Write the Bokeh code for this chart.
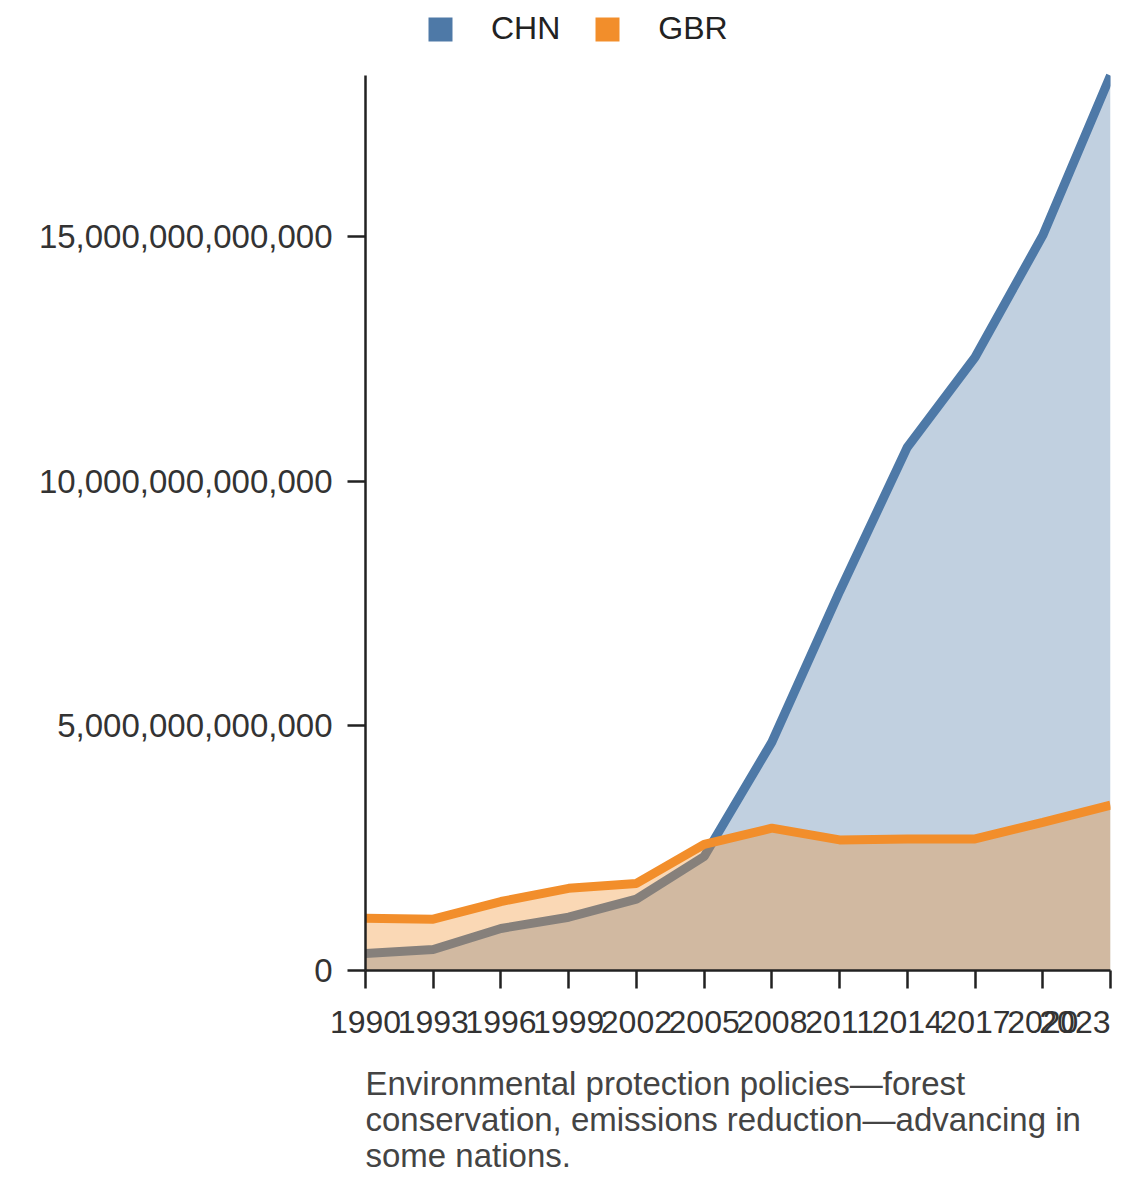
from bokeh.plotting import figure
from bokeh.models import (Range1d, FixedTicker, NumeralTickFormatter, Legend,
                          LegendItem, Label)
from bokeh.embed import file_html
from bokeh.resources import INLINE

# ---------------- data ----------------
years = [1990, 1993, 1996, 1999, 2002, 2005, 2008, 2011, 2014, 2017, 2020, 2023]
chn = [0.35e12, 0.43e12, 0.86e12, 1.09e12, 1.46e12, 2.33e12, 4.67e12, 7.75e12,
       10.70e12, 12.54e12, 15.03e12, 18.30e12]
gbr = [1.07e12, 1.05e12, 1.41e12, 1.68e12, 1.78e12, 2.58e12, 2.91e12, 2.67e12,
       2.69e12, 2.69e12, 3.03e12, 3.38e12]
series_names = ["CHN", "GBR"]
y_ticks = [0, 5e12, 10e12, 15e12]
caption_lines = ["Environmental protection policies\u2014forest",
                 "conservation, emissions reduction\u2014advancing in",
                 "some nations."]

# ---------------- style / layout ----------------
BLUE = "#4e79a7"
ORANGE = "#f28e2b"
FONT = "Liberation Sans"
W, H = 1140, 1180
LEFT, RIGHT, BOTTOM = 365, 30, 210
FRAME_H = H - BOTTOM          # frame spans the full top so the legend is not clipped
DATA_TOP_PX = 75              # where the data maximum sits (px from top)
ymax = max(chn)
y_end = ymax * FRAME_H / (FRAME_H - DATA_TOP_PX)

p = figure(width=W, height=H, output_backend="svg", toolbar_location=None,
           x_range=Range1d(years[0], years[-1]), y_range=Range1d(0, y_end),
           min_border_left=LEFT, min_border_right=RIGHT,
           min_border_top=0, min_border_bottom=BOTTOM)
p.outline_line_color = None
p.xgrid.visible = False
p.ygrid.visible = False
p.background_fill_color = "white"
p.border_fill_color = "white"

# areas + lines (overlapping, not stacked)
p.varea(x=years, y1=0, y2=chn, fill_color=BLUE, fill_alpha=0.35)
p.line(years, chn, line_color=BLUE, line_width=9)
p.varea(x=years, y1=0, y2=gbr, fill_color=ORANGE, fill_alpha=0.35)
p.line(years, gbr, line_color=ORANGE, line_width=9)

# legend proxies (zero-size, invisible in the plot)
r_c = p.quad(left=[years[0]], right=[years[0]], top=[0], bottom=[0],
             fill_color=BLUE, line_color=None)
r_g = p.quad(left=[years[0]], right=[years[0]], top=[0], bottom=[0],
             fill_color=ORANGE, line_color=None)
legend = Legend(items=[LegendItem(label=series_names[0], renderers=[r_c]),
                       LegendItem(label=series_names[1], renderers=[r_g])],
                orientation="horizontal", location=(60, FRAME_H - 47),
                glyph_width=30, glyph_height=30, label_standoff=36, spacing=32,
                padding=0, margin=0, border_line_color=None,
                background_fill_alpha=0, label_text_font_size="32px",
                label_text_font=FONT, label_text_color="#222222",
                label_height=30)
p.add_layout(legend, "center")

# axes
for ax in (p.xaxis, p.yaxis):
    ax.axis_line_color = "#222222"
    ax.axis_line_width = 2.5
    ax.major_tick_line_color = "#222222"
    ax.major_tick_line_width = 2.5
    ax.major_tick_out = 18
    ax.major_tick_in = 0
    ax.minor_tick_line_color = None
    ax.major_label_text_font = FONT
    ax.major_label_text_color = "#333333"

p.xaxis.major_label_text_font_size = "32px"
p.yaxis.major_label_text_font_size = "33px"
p.xaxis.ticker = FixedTicker(ticks=years)
p.xaxis.major_label_standoff = 22
p.xaxis.major_label_overrides = {years[-1]: ""}
p.yaxis.ticker = FixedTicker(ticks=y_ticks)
p.yaxis.bounds = (0, ymax)
p.yaxis.formatter = NumeralTickFormatter(format="0,0")
p.yaxis.major_label_standoff = 15
p.yaxis.major_label_orientation = "horizontal"


def below_y(dy):
    # dy: pixels below the frame bottom -> data y
    return -dy / FRAME_H * y_end


# last x tick label, right-aligned so it stays in the canvas
p.add_layout(Label(x=years[-1], y=below_y(40), text=str(years[-1]),
                   text_align="right", text_baseline="top",
                   text_font=FONT, text_font_size="32px", text_color="#333333"),
             "below")

# caption
for i, line in enumerate(caption_lines):
    p.add_layout(Label(x=years[0], y=below_y(113 + 36 * i), text=line,
                       text_align="left", text_baseline="middle",
                       text_font=FONT, text_font_size="33px",
                       text_color="#444444"), "below")

open("out.html", "w").write(file_html(p, INLINE))
